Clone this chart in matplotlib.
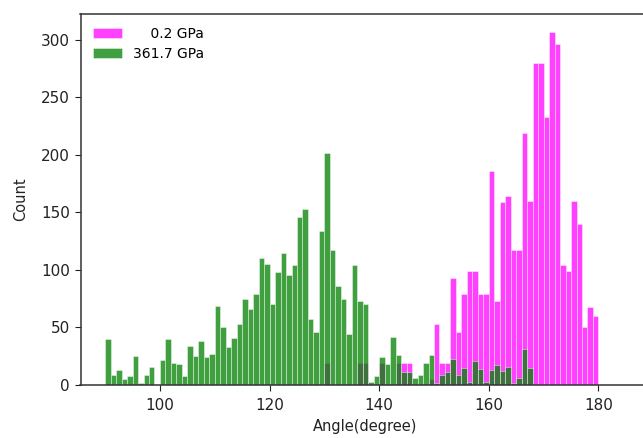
import numpy as np
import matplotlib
matplotlib.use("Agg")
import matplotlib.pyplot as plt

# Bond-angle histogram: 1-degree bins from 90 to 180 degrees
bin_edges = list(range(90, 181))

# Counts per bin at 0.2 GPa (bins 90..179)
counts_low = [
    0, 0, 0, 0, 0, 0, 0, 0, 0, 0,          # 90-99
    0, 0, 0, 0, 0, 0, 0, 0, 0, 0,          # 100-109
    0, 0, 0, 0, 0, 0, 0, 0, 0, 0,          # 110-119
    0, 0, 0, 0, 0, 0, 0, 0, 0, 0,          # 120-129
    19, 0, 0, 0, 0, 0, 19, 19, 0, 0,       # 130-139
    19, 0, 0, 19, 19, 19, 0, 0, 0, 5,      # 140-149
    53, 19, 19, 93, 46, 79, 99, 99, 79, 79,          # 150-159
    186, 73, 159, 164, 117, 117, 219, 160, 280, 280,  # 160-169
    233, 307, 296, 104, 99, 160, 140, 50, 68, 60,     # 170-179
]

# Counts per bin at 361.7 GPa (bins 90..179)
counts_high = [
    40, 9, 13, 5, 8, 25, 2, 9, 16, 0,            # 90-99
    22, 40, 19, 18, 8, 34, 25, 38, 24, 27,       # 100-109
    69, 50, 33, 41, 53, 75, 66, 79, 110, 105,    # 110-119
    70, 98, 115, 96, 104, 146, 153, 57, 46, 134,  # 120-129
    202, 117, 86, 75, 44, 104, 73, 70, 3, 8,     # 130-139
    24, 18, 42, 26, 11, 11, 6, 9, 19, 26,        # 140-149
    2, 9, 11, 23, 9, 15, 3, 21, 14, 3,           # 150-159
    13, 17, 12, 16, 2, 6, 31, 15, 0, 0,          # 160-169
    0, 0, 0, 0, 0, 0, 0, 0, 0, 0,                # 170-179
]

series_labels = ["    0.2 GPa", "361.7 GPa"]
series_colors = ["#ff00ff", "#008000"]

fig = plt.figure(figsize=(6.43, 4.38), dpi=100)
ax = fig.add_axes([80.5 / 643, 53 / 438, 570 / 643, 371 / 438])

left_edges = np.array(bin_edges[:-1], dtype=float)
widths = np.diff(bin_edges)

for counts, label, color in zip([counts_low, counts_high], series_labels, series_colors):
    ax.bar(left_edges, counts, width=widths, align="edge", color=color,
           alpha=0.75, edgecolor="white", linewidth=0.4, label=label)

ax.set_xlim(85.5, 189.5)
ax.set_ylim(0, 322.5)
ax.set_xticks([100, 120, 140, 160, 180])
ax.set_yticks([0, 50, 100, 150, 200, 250, 300])
ax.tick_params(axis="both", labelsize=11, colors="#222222", length=4)
ax.tick_params(axis="x", pad=5)
ax.set_xlabel("Angle(degree)", fontsize=10.5, color="#222222", labelpad=5)
ax.set_ylabel("Count", fontsize=10.5, color="#222222", labelpad=9)
for sp in ax.spines.values():
    sp.set_color("#333333")
    sp.set_linewidth(1.1)

ax.legend(loc="upper left", frameon=False, fontsize=10, handlelength=2.1,
          labelspacing=0.45)

fig.savefig("out.png", dpi=100)
